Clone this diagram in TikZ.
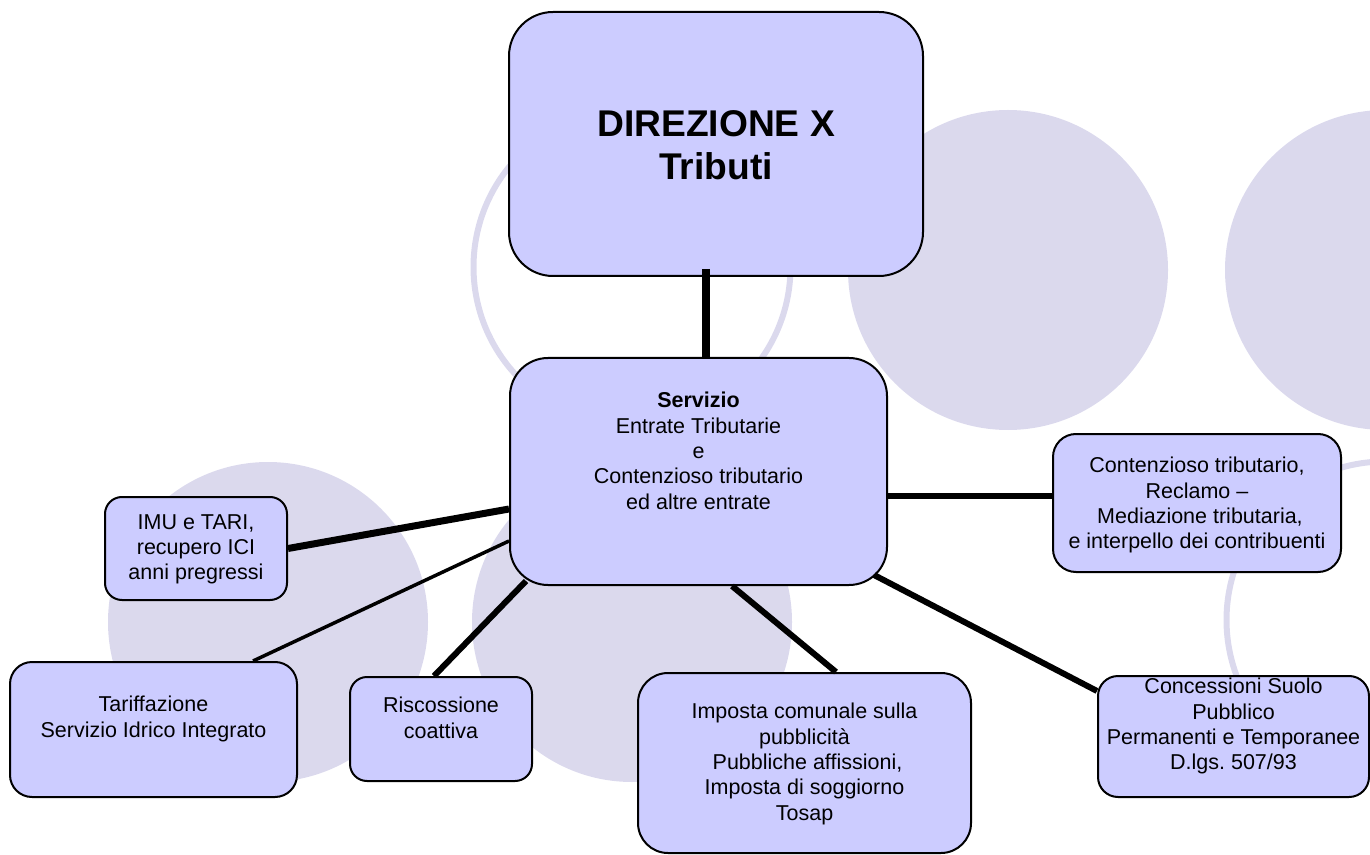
\documentclass[tikz,border=0pt]{standalone}
\usepackage{fontspec}
\setmainfont{Liberation Sans}
\usetikzlibrary{positioning}
\definecolor{boxfill}{RGB}{204,204,255}
\definecolor{circfill}{RGB}{219,217,237}

\begin{document}
\begin{tikzpicture}[x=0.5pt,y=-0.5pt,
	box/.style={draw,fill=boxfill,line width=1pt},
	lbl/.style={align=center,inner sep=0pt,font=\fontsize{10.75}{12.65}\selectfont},
	link/.style={line width=3pt},
	ring/.style={draw=circfill,line width=3pt}]
\useasboundingbox(0,0)rectangle(1370,855);
\clip(0,0)rectangle(1370,855);
\fill[circfill](1008,270)circle[radius=80pt](1385,270)circle[radius=80pt]
	(268,622)circle[radius=80pt](632,622)circle[radius=80pt];
\draw[ring](632,267)circle[radius=79.25pt](1385,620)circle[radius=79.25pt];
\node[box,minimum width=207pt,minimum height=132pt,rounded corners=22pt](dir)at(716,144){};
\node[box,minimum width=188.5pt,minimum height=113.5pt,rounded corners=19pt](serv)at(698.5,471.5){};
\node[box,minimum width=144pt,minimum height=69pt,rounded corners=11.5pt](cont)at(1197,503){};
\node[box,minimum width=91pt,minimum height=51.5pt,rounded corners=8.5pt](imu)at(196,548.5){};
\node[box,minimum width=143.5pt,minimum height=67.5pt,rounded corners=11pt](tar)at(153.5,729.5){};
\node[box,minimum width=91pt,minimum height=52pt,rounded corners=8.5pt](risc)at(441,729){};
\node[box,minimum width=166.5pt,minimum height=90pt,rounded corners=15pt](imp)at(804.5,763){};
\node[box,minimum width=135.5pt,minimum height=60.5pt,rounded corners=10pt](conc)at(1233.5,736.5){};
\node[lbl,font=\bfseries\fontsize{18.6}{21.5}\selectfont,below=49.5pt of dir.north](dirt){DIREZIONE X\\Tributi};
\node[lbl,below=17.5pt of serv.north](servt){\textbf{Servizio}\\Entrate Tributarie\\e\\Contenzioso tributario\\ed altre entrate};
\node[lbl,below=12pt of cont.north](contt){Contenzioso tributario,\\Reclamo –\\~Mediazione tributaria,\\e interpello dei contribuenti};
\node[lbl,below=9pt of imu.north](imut){IMU e TARI,\\recupero ICI\\anni pregressi};
\node[lbl,below=17.5pt of tar.north](tart){Tariffazione\\Servizio Idrico Integrato};
\node[lbl,below=10.5pt of risc.north](risct){Riscossione\\coattiva};
\node[lbl,below=15.5pt of imp.north](impt){Imposta comunale sulla\\pubblicità\\~Pubbliche affissioni,\\Imposta di soggiorno\\Tosap};
\node[lbl,below=1.5pt of conc.north](conct){Concessioni Suolo\\Pubblico\\Permanenti e Temporanee\\D.lgs.\ 507/93};
\draw[link,line width=4pt]([xshift=-5pt,yshift=4pt]dir.south)--([xshift=-5pt]dir.south|-serv.north);
\draw[link]([yshift=3.5pt]cont.west)--([yshift=3.5pt]cont.west-|serv.east);
\draw[link,line width=3.5pt]([yshift=-18.75pt]serv.west)--(imu.east);
\draw[link,line width=1.75pt]([yshift=-34.75pt]serv.west)--([xshift=49.75pt]tar.north);
\draw[link]([xshift=8.5pt,yshift=2.5pt]serv.south west)--([xshift=-3.5pt]risc.north);
\draw[link]([xshift=16.75pt]serv.south)--([xshift=15.75pt]imp.north);
\draw[link]([xshift=-7pt,yshift=5.5pt]serv.south east)--([yshift=22.75pt]conc.west);
\end{tikzpicture}
\end{document}
